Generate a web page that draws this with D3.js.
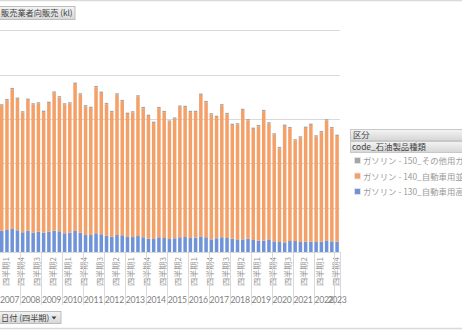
<!DOCTYPE html>
<html>
<head>
<meta charset="utf-8">
<script src="https://cdn.jsdelivr.net/npm/d3@7"></script>
<style>
  html, body { margin: 0; padding: 0; background: #fff; overflow: hidden; }
  svg { display: block; }
</style>
</head>
<body>
<svg id="chart" width="462" height="330"></svg>
<script>
// ガソリン 販売業者向販売 (kl) — quarterly, 2007 Q1 .. 2023 Q1
const years = ["2007","2008","2009","2010","2011","2012","2013","2014","2015",
               "2016","2017","2018","2019","2020","2021","2022","2023"];
const quarterNames = ["四半期1","四半期2","四半期3","四半期4"];
const quartersInLastYear = 1;

// 130_自動車用高級 (kl)
const blue130 = [
  1920000,1990000,2080000,1960000,1780000,1920000,1740000,1830000,1740000,1830000,
  1920000,1870000,1690000,1740000,1900000,1740000,1530000,1530000,1690000,1600000,
  1470000,1380000,1530000,1510000,1350000,1350000,1440000,1330000,1200000,1170000,
  1330000,1260000,1170000,1240000,1330000,1350000,1260000,1290000,1410000,1330000,
  1140000,1240000,1330000,1260000,1200000,1080000,1140000,1200000,1080000,1020000,
  1020000,1140000, 960000, 900000, 870000, 990000, 990000, 900000, 930000, 930000,
   900000, 930000,1050000, 960000, 930000
];
// 140_自動車用並 (kl)
const orange140 = [
  11290000,11700000,12600000,11850000,10800000,11800000,11560000,11560000,10890000,11610000,
  12450000,12070000,11610000,11650000,13260000,12460000,11600000,11450000,13170000,12750000,
  11860000,11230000,12670000,12090000,11100000,11230000,12580000,11640000,11070000,10470000,
  11640000,11350000,10580000,10780000,11770000,11720000,11360000,11330000,12760000,12180000,
  11260000,10930000,11890000,11170000,10250000,10420000,11660000,10670000,10020000,10320000,
  11680000,10450000, 9630000, 8460000,10500000,10170000, 9060000, 9420000,10260000,10530000,
   9510000, 9870000,10810000,10200000, 9540000
];
// 150_その他用 (kl)
const gray150 = [
  120000,120000,120000,120000,120000,120000,120000,120000,120000,120000,
  120000,120000,120000,120000,120000,120000,120000,120000,120000,120000,
  120000,120000,120000,120000,120000,120000,120000,120000,120000,120000,
  120000,120000,120000,120000,120000,120000,120000,120000,120000,120000,
  120000,120000,120000,120000,120000,120000,120000,120000,120000,120000,
  120000,120000,120000,120000,120000,120000,120000,120000,120000,120000,
  120000,120000,120000,120000,120000
];

const yTicks = [0, 4000000, 8000000, 12000000, 16000000, 20000000];

const seriesNames = [
  "ガソリン - 150_その他用ガソリン",
  "ガソリン - 140_自動車用並ガソリン",
  "ガソリン - 130_自動車用高級ガソリン"
];
const seriesColors = { g150: "#A5A5A5", o140: "#F3A069", b130: "#6F93D6" };

// category list: year + quarter
const periods = [];
years.forEach((yr, yi) => {
  const n = yi === years.length - 1 ? quartersInLastYear : 4;
  for (let q = 0; q < n; q++) periods.push({ key: yr + "-" + (q + 1), year: yr, q: quarterNames[q] });
});

const rows = periods.map((p, i) => ({ key: p.key, b130: blue130[i], o140: orange140[i], g150: gray150[i] }));

const svg = d3.select("#chart");
const W = 462, H = 330;
const plot = { left: -0.9, right: 339.7, top: 30.3, bottom: 252 };

const x = d3.scaleBand()
  .domain(periods.map(p => p.key))
  .range([plot.left, plot.right])
  .paddingInner(0.33)
  .paddingOuter(0.165);

const y = d3.scaleLinear().domain([0, 20000000]).range([plot.bottom, plot.top]);

const defs = svg.append("defs");
const grad = defs.append("linearGradient").attr("id", "btn").attr("x1", 0).attr("y1", 0).attr("x2", 0).attr("y2", 1);
grad.append("stop").attr("offset", "0%").attr("stop-color", "#F4F4F4");
grad.append("stop").attr("offset", "100%").attr("stop-color", "#D6D6D6");

const cjk = "'Noto Sans CJK JP', 'Noto Sans', sans-serif";

// frame lines
svg.append("line").attr("x1", 0).attr("x2", W).attr("y1", 0.5).attr("y2", 0.5)
  .attr("stroke", "#D9D9D9").attr("stroke-width", 1.5);
svg.append("line").attr("x1", 0).attr("x2", W).attr("y1", 328.5).attr("y2", 328.5)
  .attr("stroke", "#D9D9D9").attr("stroke-width", 1.5);

// value field button
const btnTop = svg.append("g");
btnTop.append("rect").attr("x", -2).attr("y", 6.5).attr("width", 77).attr("height", 13)
  .attr("fill", "url(#btn)").attr("stroke", "#BDBDBD");
btnTop.append("text").attr("x", 1).attr("y", 16.2).attr("font-family", cjk).attr("font-size", 8.2)
  .attr("fill", "#3F3F3F").text("販売業者向販売 (kl)");

// gridlines
svg.append("g").selectAll("line").data(yTicks).join("line")
  .attr("x1", plot.left).attr("x2", plot.right)
  .attr("y1", d => Math.round(y(d)) + 0.5).attr("y2", d => Math.round(y(d)) + 0.5)
  .attr("stroke", "#D9D9D9").attr("stroke-width", 1);

// stacked bars
const stack = d3.stack().keys(["b130", "o140", "g150"]);
const layers = stack(rows);
svg.append("g").selectAll("g").data(layers).join("g")
  .attr("fill", d => seriesColors[d.key])
  .selectAll("rect").data(d => d).join("rect")
  .attr("x", d => x(d.data.key))
  .attr("width", x.bandwidth())
  .attr("y", d => y(d[1]))
  .attr("height", d => y(d[0]) - y(d[1]));

// category axis: quarter labels (every third) and year groups
const step = x.step();
const halfGap = step * x.paddingInner() / 2;
const axisG = svg.append("g");

axisG.selectAll("text.q").data(periods.filter((p, i) => i % 3 === 0)).join("text")
  .attr("class", "q")
  .attr("transform", d => `translate(${x(d.key) + x.bandwidth() / 2 + 2.8},257) rotate(-90)`)
  .attr("text-anchor", "end")
  .attr("dominant-baseline", "central")
  .attr("font-family", cjk).attr("font-size", 8.2).attr("fill", "#9A9A9A")
  .text(d => d.q);

const yearGroups = years.map(yr => {
  const ps = periods.filter(p => p.year === yr);
  const x0 = x(ps[0].key) - halfGap;
  const x1 = x(ps[ps.length - 1].key) + x.bandwidth() + halfGap;
  return { yr, x0, x1 };
});

axisG.selectAll("line.sep").data(yearGroups.slice(1).map(g => g.x0).concat([yearGroups[yearGroups.length - 1].x1]))
  .join("line").attr("class", "sep")
  .attr("x1", d => Math.round(d) + 0.5).attr("x2", d => Math.round(d) + 0.5)
  .attr("y1", plot.bottom).attr("y2", 305)
  .attr("stroke", "#D9D9D9");

axisG.selectAll("text.yr").data(yearGroups).join("text")
  .attr("class", "yr")
  .attr("x", d => (d.x0 + d.x1) / 2).attr("y", 302.5)
  .attr("text-anchor", "middle")
  .attr("font-family", "Lato, 'Open Sans', sans-serif").attr("font-size", 8.7)
  .attr("letter-spacing", -0.25).attr("fill", "#7F7F7F")
  .text(d => d.yr);

// axis field button
const btnBottom = svg.append("g");
btnBottom.append("rect").attr("x", -2).attr("y", 311.5).attr("width", 63).attr("height", 12)
  .attr("fill", "url(#btn)").attr("stroke", "#BDBDBD");
btnBottom.append("text").attr("x", 1).attr("y", 320.6).attr("font-family", cjk).attr("font-size", 8.2)
  .attr("fill", "#3F3F3F").text("日付 (四半期)");
btnBottom.append("path").attr("d", "M51.5,316.5 L56.5,316.5 L54,319.5 Z").attr("fill", "#404040");

// legend
const lg = svg.append("g");
lg.append("rect").attr("x", 350.5).attr("y", 129.5).attr("width", 115).attr("height", 11)
  .attr("fill", "url(#btn)").attr("stroke", "#C8C8C8");
lg.append("text").attr("x", 353).attr("y", 138).attr("font-family", cjk).attr("font-size", 8.4)
  .attr("fill", "#3F3F3F").text("区分");
lg.append("rect").attr("x", 350.5).attr("y", 141.5).attr("width", 115).attr("height", 11)
  .attr("fill", "url(#btn)").attr("stroke", "#C8C8C8");
lg.append("text").attr("x", 352).attr("y", 150).attr("font-family", cjk).attr("font-size", 8.4)
  .attr("fill", "#3F3F3F").text("code_石油製品種類");

const legendKeys = ["g150", "o140", "b130"];
const legendY = [161, 176.5, 192];
legendKeys.forEach((k, i) => {
  lg.append("rect").attr("x", 354.5).attr("y", legendY[i] - 3.5).attr("width", 6).attr("height", 6)
    .attr("fill", seriesColors[k]).attr("stroke", "#E8E8E8").attr("stroke-width", 0.8);
  lg.append("text").attr("x", 363).attr("y", legendY[i] + 3).attr("font-family", cjk)
    .attr("font-size", 8.4).attr("fill", "#9A9A9A").text(seriesNames[i]);
});
</script>
</body>
</html>
